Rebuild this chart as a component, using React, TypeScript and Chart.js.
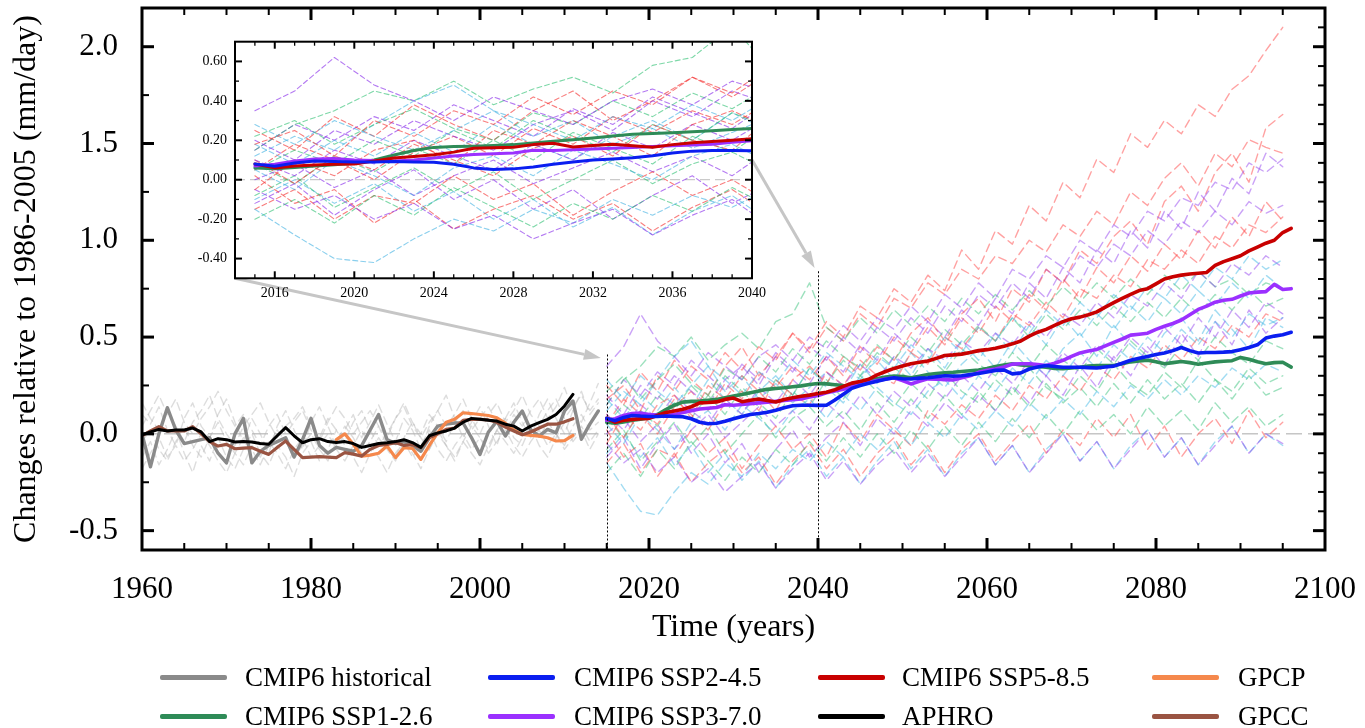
import React, { useEffect, useRef } from 'react';
import { Chart, registerables } from 'chart.js';

Chart.register(...registerables);

const FONT = '"Liberation Serif", "Times New Roman", Times, serif';

// ---------- axes / ticks ----------
const X_TICKS = [1960, 1980, 2000, 2020, 2040, 2060, 2080, 2100];
const Y_TICKS = [-0.5, 0, 0.5, 1.0, 1.5, 2.0];
const INSET_X_TICKS = [2016, 2020, 2024, 2028, 2032, 2036, 2040];
const INSET_Y_TICKS = [-0.4, -0.2, 0, 0.2, 0.4, 0.6];

// ---------- start years ----------
const HIST_START = 1960;
const SCEN_START = 2015;
const MEMBER_STEP = 2;
const APHRO_START = 1960;
const GPCC_START = 1960;
const GPCP_START = 1983;

// ---------- ensemble means (annual) ----------
const HIST_MEAN = [0.00,-0.17,0.00,0.135,0.02,-0.05,-0.04,-0.03,-0.02,-0.10,
  -0.15,0.00,0.08,-0.15,-0.09,-0.06,-0.04,-0.02,-0.12,-0.03,
  0.08,-0.06,-0.10,-0.07,-0.08,-0.09,-0.06,0.02,0.10,-0.03,
  -0.05,-0.04,-0.06,-0.09,-0.02,0.04,0.05,0.056,0.056,-0.02,
  -0.106,0.01,0.066,-0.011,0.06,0.118,0.02,-0.011,0.023,0.005,
  0.118,0.17,-0.028,0.05,0.118];

const SSP585_MEAN = [0.08,0.06,0.07,0.075,0.078,0.08,0.095,0.11,0.118,0.127,
  0.14,0.16,0.162,0.165,0.178,0.185,0.166,0.174,0.18,0.172,
  0.165,0.178,0.187,0.194,0.2,0.208,0.215,0.228,0.245,0.262,
  0.27,0.282,0.305,0.322,0.338,0.35,0.362,0.37,0.376,0.39,
  0.405,0.408,0.412,0.42,0.43,0.435,0.442,0.452,0.465,0.48,
  0.505,0.525,0.54,0.56,0.58,0.595,0.603,0.615,0.63,0.655,
  0.678,0.7,0.72,0.74,0.75,0.775,0.8,0.812,0.82,0.826,
  0.83,0.834,0.87,0.89,0.905,0.92,0.945,0.965,0.985,1.0,
  1.04,1.062];

const SSP370_MEAN = [0.07,0.078,0.095,0.105,0.108,0.1,0.097,0.095,0.1,0.11,
  0.12,0.128,0.132,0.136,0.15,0.148,0.152,0.156,0.16,0.163,
  0.168,0.172,0.176,0.18,0.19,0.198,0.212,0.222,0.23,0.242,
  0.255,0.265,0.275,0.283,0.29,0.275,0.258,0.272,0.284,0.283,
  0.28,0.278,0.29,0.3,0.318,0.328,0.335,0.345,0.36,0.362,
  0.362,0.358,0.353,0.365,0.38,0.4,0.418,0.428,0.436,0.455,
  0.473,0.49,0.51,0.515,0.52,0.54,0.556,0.57,0.588,0.615,
  0.643,0.66,0.68,0.69,0.695,0.712,0.728,0.732,0.735,0.772,
  0.746,0.75];

const SSP245_MEAN = [0.08,0.068,0.085,0.095,0.092,0.09,0.09,0.092,0.09,0.088,
  0.078,0.06,0.052,0.055,0.065,0.078,0.09,0.1,0.105,0.112,
  0.122,0.135,0.145,0.148,0.148,0.147,0.148,0.175,0.205,0.235,
  0.25,0.262,0.272,0.282,0.29,0.285,0.283,0.288,0.29,0.295,
  0.3,0.298,0.3,0.306,0.312,0.32,0.328,0.33,0.31,0.315,
  0.335,0.345,0.353,0.348,0.344,0.344,0.344,0.342,0.34,0.345,
  0.35,0.365,0.38,0.39,0.4,0.41,0.418,0.43,0.446,0.43,
  0.418,0.42,0.42,0.422,0.425,0.435,0.446,0.46,0.495,0.505,
  0.512,0.525];

const SSP126_MEAN = [0.06,0.055,0.062,0.07,0.076,0.083,0.1,0.125,0.148,0.164,
  0.168,0.17,0.174,0.178,0.186,0.195,0.203,0.212,0.222,0.23,
  0.234,0.238,0.243,0.248,0.255,0.26,0.258,0.254,0.25,0.248,
  0.26,0.272,0.285,0.294,0.299,0.296,0.29,0.298,0.307,0.312,
  0.316,0.318,0.322,0.326,0.33,0.338,0.348,0.356,0.362,0.356,
  0.352,0.348,0.344,0.338,0.336,0.34,0.344,0.35,0.353,0.353,
  0.353,0.362,0.372,0.376,0.38,0.372,0.362,0.368,0.374,0.368,
  0.36,0.366,0.372,0.375,0.378,0.395,0.385,0.372,0.362,0.368,
  0.37,0.345];

// ---------- observations (annual) ----------
const APHRO = [-0.005,0.01,0.023,0.015,0.02,0.02,0.03,0.01,-0.04,-0.025,
  -0.03,-0.042,-0.04,-0.042,-0.05,-0.054,-0.01,0.032,-0.01,-0.046,
  -0.03,-0.025,-0.04,-0.045,-0.04,-0.05,-0.07,-0.06,-0.05,-0.046,
  -0.04,-0.03,-0.045,-0.07,-0.01,0.005,0.015,0.03,0.06,0.08,
  0.075,0.07,0.066,0.05,0.04,0.015,0.04,0.058,0.075,0.1,
  0.144,0.204];

const GPCC = [-0.01,0.015,0.037,0.015,0.015,0.015,0.037,0.0,-0.04,-0.063,
  -0.054,-0.077,-0.074,-0.071,-0.09,-0.106,-0.07,-0.037,-0.08,-0.123,
  -0.12,-0.118,-0.12,-0.123,-0.097,-0.105,-0.115,-0.08,-0.06,-0.054,
  -0.045,-0.06,-0.055,-0.071,-0.02,0.0,0.023,0.03,0.07,0.075,
  0.075,0.072,0.06,0.035,0.015,-0.005,0.01,0.03,0.05,0.05,
  0.062,0.078];

const GPCP = [-0.03,0.0,-0.054,-0.115,-0.11,-0.1,-0.063,-0.123,-0.071,-0.075,
  -0.132,-0.06,0.006,0.06,0.075,0.109,0.105,0.1,0.095,0.083,
  0.055,0.02,-0.003,-0.008,-0.012,-0.02,-0.037,-0.035,-0.008];

// ---------- historical ensemble members (annual, 1960-2014) ----------
const HIST_M1 = [0.10,0.05,0.14,0.02,-0.06,0.08,0.16,0.04,-0.02,0.10,0.18,0.06,-0.04,0.08,0.00,-0.10,0.04,0.12,0.02,-0.08,0.06,0.14,0.04,-0.06,0.02,0.10,-0.02,0.06,0.15,0.05,-0.04,0.08,0.02,-0.08,0.04,0.12,0.20,0.08,-0.02,0.06,0.14,0.04,-0.06,0.08,0.16,0.06,-0.02,0.10,0.18,0.08,0.00,0.12,0.22,0.10,0.16];
const HIST_M2 = [-0.12,-0.04,-0.16,-0.08,0.02,-0.10,-0.20,-0.06,-0.14,-0.02,-0.12,-0.18,-0.08,0.00,-0.10,-0.16,-0.06,-0.12,-0.22,-0.10,-0.04,-0.14,-0.08,0.02,-0.06,-0.12,-0.20,-0.10,-0.02,-0.08,-0.14,-0.04,-0.10,-0.18,-0.08,0.00,-0.06,-0.12,-0.04,-0.10,-0.16,-0.06,0.02,-0.04,-0.10,-0.02,0.04,-0.06,-0.12,-0.02,0.06,-0.04,0.02,-0.08,0.00];
const HIST_M3 = [0.04,0.12,0.20,0.10,0.18,0.06,0.00,0.08,0.14,0.22,0.12,0.04,0.10,0.02,-0.06,0.04,0.10,0.00,0.06,0.12,0.02,-0.04,0.06,0.14,0.08,0.00,0.06,0.12,0.04,-0.02,0.08,0.16,0.06,0.00,0.10,0.04,-0.04,0.06,0.12,0.02,0.08,0.14,0.06,0.00,0.10,0.04,0.12,0.18,0.08,0.14,0.24,0.12,0.06,0.16,0.26];
const HIST_M4 = [-0.04,0.02,-0.08,-0.14,-0.04,0.04,-0.06,-0.12,-0.02,0.06,-0.04,-0.10,-0.02,-0.08,-0.16,-0.06,0.02,-0.04,-0.12,-0.06,0.00,-0.08,-0.14,-0.04,0.04,-0.02,-0.10,-0.04,0.04,-0.06,-0.12,-0.02,0.06,-0.02,-0.08,0.02,-0.06,-0.14,-0.04,0.04,-0.02,-0.08,0.02,0.08,-0.02,-0.06,0.04,-0.02,0.06,0.00,-0.06,0.04,0.10,0.02,0.06];
const HIST_M5 = [0.16,0.08,0.02,0.12,0.04,-0.04,0.06,0.12,0.20,0.08,0.00,-0.06,0.04,0.10,0.16,0.06,-0.02,0.04,0.08,0.14,0.04,-0.02,0.08,0.02,-0.04,0.06,0.12,0.02,-0.06,0.00,0.08,0.14,0.04,-0.02,0.06,0.12,0.04,0.10,0.18,0.08,0.00,0.10,0.16,0.06,0.12,0.20,0.10,0.04,0.12,0.18,0.08,0.14,0.20,0.12,0.18];
const HIST_M6 = [-0.18,-0.10,-0.02,-0.12,-0.06,-0.14,-0.08,0.00,-0.06,-0.14,-0.20,-0.10,-0.16,-0.06,-0.12,-0.04,-0.10,-0.18,-0.08,-0.02,-0.12,-0.06,0.00,-0.08,-0.14,-0.06,0.02,-0.06,-0.12,-0.20,-0.10,-0.04,-0.12,-0.06,0.02,-0.08,-0.14,-0.06,0.00,-0.08,-0.02,-0.10,-0.04,0.02,-0.06,-0.12,-0.04,0.02,-0.06,0.00,-0.08,-0.02,0.04,-0.04,0.02];

// ---------- scenario ensemble members (every 2 years, 2015-2095) ----------
const SSP585_M1 = [0.18,0.25,0.12,0.30,0.22,0.35,0.28,0.42,0.33,0.45,0.38,0.52,0.44,0.58,0.50,0.66,0.60,0.75,0.68,0.82,0.74,0.95,0.85,1.05,0.98,1.18,1.10,1.30,1.22,1.42,1.35,1.55,1.48,1.62,1.55,1.70,1.64,1.78,1.85,1.98,2.10];
const SSP585_M2 = [-0.05,0.10,0.02,0.15,0.20,0.08,0.25,0.18,0.30,0.22,0.12,0.28,0.35,0.26,0.40,0.33,0.45,0.38,0.52,0.60,0.48,0.62,0.70,0.58,0.75,0.68,0.85,0.78,0.95,0.88,1.02,1.10,0.98,1.20,1.28,1.15,1.35,1.45,1.30,1.58,1.65];
const SSP585_M3 = [0.10,-0.02,0.12,0.05,0.18,0.10,0.02,0.16,0.22,0.12,0.28,0.20,0.15,0.32,0.25,0.38,0.30,0.26,0.42,0.36,0.50,0.44,0.55,0.48,0.62,0.56,0.68,0.60,0.75,0.70,0.82,0.76,0.90,0.85,0.95,0.88,1.02,0.96,1.08,1.04,1.12];
const SSP585_M4 = [-0.15,-0.05,-0.20,-0.08,-0.12,0.02,-0.10,-0.02,-0.18,-0.06,0.04,-0.08,0.00,-0.12,0.06,-0.04,0.10,0.02,-0.06,0.12,0.05,0.15,0.08,0.20,0.12,0.25,0.18,0.30,0.22,0.35,0.28,0.40,0.34,0.46,0.38,0.50,0.44,0.56,0.50,0.62,0.58];
const SSP585_M5 = [0.02,-0.12,-0.05,-0.22,-0.10,-0.25,-0.15,-0.08,-0.20,-0.12,-0.26,-0.14,-0.05,-0.18,-0.08,-0.22,-0.10,-0.02,-0.16,-0.06,-0.20,-0.08,0.00,-0.14,-0.04,0.05,-0.10,0.02,-0.06,0.08,-0.02,0.10,-0.08,0.04,-0.12,0.00,0.08,-0.05,0.12,-0.02,0.06];
const SSP585_M6 = [0.25,0.15,0.32,0.22,0.38,0.28,0.20,0.35,0.45,0.30,0.40,0.52,0.42,0.55,0.48,0.62,0.55,0.70,0.65,0.78,0.72,0.85,0.80,0.92,0.88,1.00,0.94,1.08,1.02,1.15,1.08,1.25,1.18,1.32,1.40,1.28,1.45,1.38,1.52,1.48,1.45];
const SSP585_M7 = [0.05,0.18,0.10,0.00,0.14,0.22,0.12,0.26,0.18,0.32,0.24,0.35,0.28,0.40,0.30,0.45,0.36,0.50,0.42,0.55,0.46,0.60,0.52,0.66,0.58,0.72,0.64,0.80,0.70,0.86,0.78,0.92,0.84,0.98,0.90,1.05,0.96,1.12,1.02,1.20,1.10];

const SSP370_M1 = [0.35,0.45,0.62,0.48,0.40,0.30,0.42,0.35,0.28,0.40,0.46,0.38,0.50,0.44,0.56,0.48,0.60,0.54,0.66,0.58,0.72,0.65,0.78,0.70,0.85,0.80,0.92,0.86,1.00,0.94,1.08,1.02,1.15,1.10,1.22,1.18,1.30,1.26,1.40,1.35,1.42];
const SSP370_M2 = [0.10,0.02,0.15,0.08,0.20,0.12,0.05,0.18,0.10,0.24,0.16,0.28,0.20,0.32,0.25,0.36,0.28,0.40,0.34,0.44,0.38,0.48,0.42,0.52,0.46,0.58,0.50,0.62,0.56,0.68,0.60,0.72,0.66,0.78,0.70,0.84,0.76,0.88,0.82,0.92,0.86];
const SSP370_M3 = [-0.05,-0.15,-0.08,-0.20,-0.12,-0.25,-0.18,-0.30,-0.22,-0.15,-0.28,-0.18,-0.10,-0.24,-0.14,-0.26,-0.16,-0.08,-0.20,-0.10,-0.22,-0.12,-0.02,-0.16,-0.06,-0.20,-0.10,0.00,-0.14,-0.04,-0.18,-0.08,0.02,-0.12,-0.02,-0.16,-0.06,0.04,-0.10,0.00,-0.05];
const SSP370_M4 = [0.20,0.10,0.25,0.18,0.30,0.22,0.15,0.28,0.35,0.25,0.40,0.32,0.45,0.38,0.50,0.42,0.55,0.48,0.60,0.52,0.66,0.58,0.72,0.65,0.78,0.70,0.85,0.78,0.92,0.86,0.98,0.92,1.05,0.98,1.10,1.04,1.15,1.08,1.20,1.14,1.18];
const SSP370_M5 = [0.00,0.08,-0.04,0.05,-0.08,0.02,0.10,-0.02,0.06,0.14,0.04,0.12,0.02,0.16,0.08,0.20,0.10,0.22,0.14,0.26,0.18,0.30,0.22,0.34,0.26,0.38,0.30,0.42,0.34,0.46,0.38,0.50,0.42,0.55,0.46,0.60,0.50,0.64,0.55,0.68,0.62];
const SSP370_M6 = [-0.12,-0.02,-0.18,-0.05,0.05,-0.10,0.00,-0.15,-0.05,-0.20,-0.08,0.02,-0.12,-0.02,0.06,-0.06,0.08,0.00,0.12,0.04,0.16,0.08,0.20,0.12,0.25,0.16,0.30,0.20,0.35,0.24,0.40,0.30,0.45,0.35,0.52,0.40,0.58,0.46,0.64,0.52,0.60];
const SSP370_M7 = [0.15,0.28,0.20,0.32,0.25,0.38,0.30,0.22,0.36,0.28,0.42,0.34,0.26,0.40,0.32,0.46,0.38,0.52,0.44,0.58,0.50,0.64,0.56,0.70,0.62,0.78,0.70,0.86,0.78,0.95,0.88,1.05,0.96,1.15,1.06,1.25,1.15,1.32,1.24,1.45,1.38];

const SSP245_M1 = [0.28,0.18,0.30,0.22,0.15,0.25,0.35,0.28,0.20,0.32,0.26,0.38,0.30,0.42,0.35,0.28,0.40,0.34,0.46,0.38,0.50,0.42,0.55,0.48,0.60,0.52,0.64,0.56,0.68,0.60,0.72,0.64,0.76,0.70,0.82,0.74,0.86,0.80,0.92,0.85,0.90];
const SSP245_M2 = [0.05,-0.05,0.10,0.02,-0.08,0.06,0.12,0.02,0.15,0.08,0.00,0.12,0.18,0.08,0.20,0.12,0.24,0.16,0.10,0.22,0.28,0.18,0.30,0.22,0.34,0.26,0.38,0.30,0.42,0.34,0.46,0.38,0.50,0.42,0.54,0.46,0.58,0.50,0.62,0.56,0.60];
const SSP245_M3 = [-0.15,-0.28,-0.40,-0.42,-0.30,-0.20,-0.26,-0.15,-0.22,-0.10,-0.18,-0.08,-0.14,-0.04,-0.12,0.00,-0.08,0.04,-0.06,0.06,-0.02,0.10,0.02,0.12,0.04,0.16,0.08,0.18,0.10,0.22,0.14,0.25,0.18,0.28,0.20,0.30,0.24,0.34,0.28,0.36,0.32];
const SSP245_M4 = [0.12,0.22,0.15,0.28,0.40,0.48,0.35,0.22,0.30,0.18,0.26,0.16,0.24,0.32,0.22,0.36,0.26,0.40,0.30,0.44,0.34,0.48,0.38,0.52,0.42,0.56,0.46,0.60,0.50,0.62,0.54,0.66,0.58,0.70,0.62,0.74,0.66,0.78,0.70,0.82,0.75];
const SSP245_M5 = [-0.10,0.00,-0.12,-0.02,-0.16,-0.06,-0.20,-0.10,-0.24,-0.14,-0.28,-0.16,-0.08,-0.22,-0.12,-0.26,-0.14,-0.04,-0.18,-0.08,-0.22,-0.10,-0.02,-0.16,-0.06,-0.20,-0.08,0.00,-0.14,-0.04,-0.18,-0.06,0.02,-0.12,-0.02,-0.16,-0.04,0.04,-0.10,0.00,-0.06];
const SSP245_M6 = [0.18,0.08,0.20,0.12,0.24,0.14,0.28,0.18,0.10,0.22,0.30,0.20,0.34,0.24,0.16,0.30,0.38,0.28,0.42,0.32,0.24,0.36,0.44,0.34,0.48,0.38,0.30,0.44,0.52,0.40,0.56,0.46,0.38,0.52,0.60,0.48,0.64,0.54,0.44,0.60,0.55];

const SSP126_M1 = [0.22,0.30,0.18,0.28,0.36,0.26,0.20,0.34,0.28,0.40,0.32,0.44,0.36,0.48,0.40,0.34,0.46,0.38,0.50,0.42,0.54,0.46,0.56,0.48,0.60,0.50,0.62,0.54,0.64,0.56,0.66,0.58,0.68,0.60,0.70,0.62,0.72,0.64,0.74,0.66,0.70];
const SSP126_M2 = [-0.20,-0.10,-0.22,-0.08,-0.18,-0.04,-0.14,-0.24,-0.12,-0.20,-0.08,-0.16,-0.04,-0.14,-0.02,-0.12,0.00,-0.10,0.02,-0.08,0.04,-0.06,0.06,-0.04,0.08,-0.02,0.10,0.00,0.12,0.02,0.10,0.00,0.14,0.04,0.12,0.02,0.16,0.06,0.14,0.04,0.10];
const SSP126_M3 = [0.05,0.15,0.08,0.20,0.12,0.25,0.16,0.30,0.22,0.14,0.28,0.20,0.34,0.26,0.38,0.30,0.42,0.34,0.28,0.40,0.32,0.44,0.36,0.30,0.42,0.34,0.46,0.38,0.32,0.44,0.36,0.48,0.40,0.34,0.46,0.38,0.50,0.42,0.36,0.48,0.44];
const SSP126_M4 = [-0.08,0.02,-0.14,-0.04,0.06,-0.06,0.04,-0.10,0.00,0.10,-0.02,0.08,0.14,0.04,0.12,0.02,0.16,0.06,0.18,0.08,0.20,0.10,0.22,0.12,0.24,0.14,0.26,0.16,0.24,0.14,0.26,0.16,0.28,0.18,0.26,0.16,0.28,0.18,0.30,0.20,0.24];
const SSP126_M5 = [0.15,0.28,0.35,0.45,0.40,0.50,0.38,0.46,0.52,0.44,0.58,0.62,0.78,0.55,0.48,0.60,0.52,0.64,0.56,0.66,0.58,0.70,0.62,0.72,0.64,0.74,0.66,0.76,0.68,0.78,0.70,0.80,0.72,0.82,0.74,0.84,0.76,0.80,0.72,0.78,0.75];
const SSP126_M6 = [0.08,-0.02,0.12,0.04,0.16,0.08,0.20,0.10,0.24,0.16,0.08,0.22,0.14,0.28,0.18,0.30,0.22,0.14,0.26,0.18,0.32,0.22,0.16,0.28,0.20,0.34,0.24,0.18,0.30,0.22,0.36,0.26,0.20,0.32,0.24,0.38,0.28,0.22,0.34,0.26,0.30];

// ---------- colours ----------
const C_HIST = '#8a8a8a';
const C_126 = '#2e8b57';
const C_245 = '#0a1ef0';
const C_370 = '#9b30ff';
const C_585 = '#c80000';
const C_APHRO = '#000000';
const C_GPCP = '#f5884c';
const C_GPCC = '#9a5442';

const CM_HIST = 'rgba(180,180,180,0.45)';
const CM_126 = 'rgba(60,195,125,0.5)';
const CM_245 = 'rgba(70,185,230,0.5)';
const CM_370 = 'rgba(150,70,240,0.5)';
const CM_585 = 'rgba(255,70,70,0.5)';

const CI_126 = 'rgba(40,190,110,0.6)';
const CI_245 = 'rgba(60,175,225,0.6)';
const CI_370 = 'rgba(140,50,235,0.65)';
const CI_585 = 'rgba(245,55,55,0.65)';

const MEMBER_GROUPS = [
  { color: CM_585, insetColor: CI_585, members: [SSP585_M1, SSP585_M2, SSP585_M3, SSP585_M4, SSP585_M5, SSP585_M6, SSP585_M7] },
  { color: CM_370, insetColor: CI_370, members: [SSP370_M1, SSP370_M2, SSP370_M3, SSP370_M4, SSP370_M5, SSP370_M6, SSP370_M7] },
  { color: CM_245, insetColor: CI_245, members: [SSP245_M1, SSP245_M2, SSP245_M3, SSP245_M4, SSP245_M5, SSP245_M6] },
  { color: CM_126, insetColor: CI_126, members: [SSP126_M1, SSP126_M2, SSP126_M3, SSP126_M4, SSP126_M5, SSP126_M6] },
];
const HIST_MEMBERS = [HIST_M1, HIST_M2, HIST_M3, HIST_M4, HIST_M5, HIST_M6];

const LEGEND_LABELS = ['CMIP6 historical', 'CMIP6 SSP2-4.5', 'CMIP6 SSP5-8.5', 'GPCP',
  'CMIP6 SSP1-2.6', 'CMIP6 SSP3-7.0', 'APHRO', 'GPCC'];
const LEGEND_COLORS = [C_HIST, C_245, C_585, C_GPCP, C_126, C_370, C_APHRO, C_GPCC];

// annotation marks in main-chart data coordinates
const MARKERS = [{ year: 2015, top: 0.41 }, { year: 2040, top: 0.84 }];
const ARROWS = [
  { from: [1971.0, 0.804], to: [2014.3, 0.392] },
  { from: [2032.2, 1.415], to: [2039.6, 0.857] },
];

// ---------- helpers ----------
type Pt = { x: number; y: number };
const series = (start: number, step: number, vals: number[]): Pt[] =>
  vals.map((v, i) => ({ x: start + i * step, y: v }));

function lineDs(data: Pt[], color: string, width: number, order: number, dash?: number[], label?: string) {
  return {
    label: label || '',
    data,
    borderColor: color,
    backgroundColor: color,
    borderWidth: width,
    borderDash: dash || [],
    pointRadius: 0,
    fill: false,
    tension: 0,
    order,
    borderCapStyle: 'round',
    borderJoinStyle: 'round',
  };
}

function buildDatasets(inset: boolean) {
  const ds: any[] = [];
  const mw = inset ? 3 : 3.6;
  ds.push(lineDs(series(SCEN_START, 1, SSP245_MEAN), C_245, mw, 1, undefined, 'CMIP6 SSP2-4.5'));
  ds.push(lineDs(series(SCEN_START, 1, SSP585_MEAN), C_585, mw, 2, undefined, 'CMIP6 SSP5-8.5'));
  ds.push(lineDs(series(SCEN_START, 1, SSP370_MEAN), C_370, mw, 3, undefined, 'CMIP6 SSP3-7.0'));
  ds.push(lineDs(series(SCEN_START, 1, SSP126_MEAN), C_126, mw, 4, undefined, 'CMIP6 SSP1-2.6'));
  if (!inset) {
    ds.push(lineDs(series(APHRO_START, 1, APHRO), C_APHRO, 3, 5, undefined, 'APHRO'));
    ds.push(lineDs(series(GPCC_START, 1, GPCC), C_GPCC, 3.2, 6, undefined, 'GPCC'));
    ds.push(lineDs(series(GPCP_START, 1, GPCP), C_GPCP, 3.2, 7, undefined, 'GPCP'));
    ds.push(lineDs(series(HIST_START, 1, HIST_MEAN), C_HIST, 3.4, 8, undefined, 'CMIP6 historical'));
    HIST_MEMBERS.forEach((m) => ds.push(lineDs(series(HIST_START, 1, m), CM_HIST, 1.4, 50, [8, 5])));
  }
  const maxN = Math.max(...MEMBER_GROUPS.map((g) => g.members.length));
  for (let i = 0; i < maxN; i++) {
    MEMBER_GROUPS.forEach((g) => {
      if (g.members[i]) {
        ds.push(lineDs(series(SCEN_START, MEMBER_STEP, g.members[i]), inset ? g.insetColor : g.color,
          inset ? 1.1 : 1.4, 60, inset ? [5, 3] : [8, 5]));
      }
    });
  }
  return ds;
}

interface FrameSpec {
  xMinor: number; xMajor: number[];
  yMinorLeft: number; yMinorRight: number; yMajor: number[];
  majorLen: number; minorLen: number;
  majorWidth: number; minorWidth: number; frameWidth: number;
}

function drawFrame(chart: any, s: FrameSpec) {
  const { ctx, chartArea: a } = chart;
  const x = chart.scales.x;
  const y = chart.scales.y;
  ctx.save();
  ctx.setLineDash([]);
  ctx.strokeStyle = '#000';
  const seg = (x1: number, y1: number, x2: number, y2: number, w: number) => {
    ctx.lineWidth = w;
    ctx.beginPath(); ctx.moveTo(x1, y1); ctx.lineTo(x2, y2); ctx.stroke();
  };
  const isMajor = (v: number, list: number[]) => list.some((m) => Math.abs(m - v) < 1e-6);
  const ks = Math.ceil(x.min / s.xMinor - 1e-9);
  const ke = Math.floor(x.max / s.xMinor + 1e-9);
  for (let k = ks; k <= ke; k++) {
    const v = k * s.xMinor;
    const px = x.getPixelForValue(v);
    if (px < a.left + 2 || px > a.right - 2) continue;
    const maj = isMajor(v, s.xMajor);
    const len = maj ? s.majorLen : s.minorLen;
    const w = maj ? s.majorWidth : s.minorWidth;
    seg(px, a.bottom, px, a.bottom - len, w);
    seg(px, a.top, px, a.top + len, w);
  }
  const side = (step: number, x0: number, dir: number) => {
    const s0 = Math.ceil(y.min / step - 1e-9);
    const s1 = Math.floor(y.max / step + 1e-9);
    for (let k = s0; k <= s1; k++) {
      const v = k * step;
      const py = y.getPixelForValue(v);
      if (py < a.top + 2 || py > a.bottom - 2) continue;
      const maj = isMajor(v, s.yMajor);
      const len = maj ? s.majorLen : s.minorLen;
      const w = maj ? s.majorWidth : s.minorWidth;
      seg(x0, py, x0 + dir * len, py, w);
    }
  };
  side(s.yMinorLeft, a.left, 1);
  side(s.yMinorRight, a.right, -1);
  ctx.lineWidth = s.frameWidth;
  ctx.strokeRect(a.left, a.top, a.right - a.left, a.bottom - a.top);
  ctx.restore();
}

function drawArrow(ctx: CanvasRenderingContext2D, x1: number, y1: number, x2: number, y2: number) {
  const color = '#c6c6c6';
  const headLen = 17;
  const headW = 5.5;
  const ang = Math.atan2(y2 - y1, x2 - x1);
  const bx = x2 - headLen * Math.cos(ang);
  const by = y2 - headLen * Math.sin(ang);
  ctx.save();
  ctx.setLineDash([]);
  ctx.strokeStyle = color;
  ctx.lineWidth = 3;
  ctx.beginPath(); ctx.moveTo(x1, y1); ctx.lineTo(bx, by); ctx.stroke();
  ctx.fillStyle = color;
  ctx.beginPath();
  ctx.moveTo(x2, y2);
  ctx.lineTo(bx + headW * Math.sin(ang), by - headW * Math.cos(ang));
  ctx.lineTo(bx - headW * Math.sin(ang), by + headW * Math.cos(ang));
  ctx.closePath();
  ctx.fill();
  ctx.restore();
}

const fixBox = (w?: number, h?: number) => (s: any) => {
  if (w !== undefined) s.width = w;
  if (h !== undefined) s.height = h;
  s.paddingLeft = 0; s.paddingRight = 0; s.paddingTop = 0; s.paddingBottom = 0;
};

const mainDecor = {
  id: 'mainDecor',
  beforeDatasetsDraw(chart: any) {
    const { ctx, chartArea: a } = chart;
    const y = chart.scales.y;
    const y0 = y.getPixelForValue(0);
    ctx.save();
    ctx.strokeStyle = '#a9a9a9';
    ctx.lineWidth = 1;
    ctx.setLineDash([16, 6]);
    ctx.beginPath(); ctx.moveTo(a.left, y0); ctx.lineTo(a.right, y0); ctx.stroke();
    ctx.restore();
  },
  afterDatasetsDraw(chart: any) {
    const { ctx, chartArea: a } = chart;
    const x = chart.scales.x;
    const y = chart.scales.y;
    ctx.save();
    ctx.strokeStyle = '#000';
    ctx.lineWidth = 1;
    ctx.setLineDash([2, 2]);
    MARKERS.forEach((m) => {
      const px = Math.round(x.getPixelForValue(m.year)) + 0.5;
      ctx.beginPath(); ctx.moveTo(px, y.getPixelForValue(m.top)); ctx.lineTo(px, a.bottom); ctx.stroke();
    });
    ctx.restore();
    ARROWS.forEach((ar) => {
      drawArrow(ctx, x.getPixelForValue(ar.from[0]), y.getPixelForValue(ar.from[1]),
        x.getPixelForValue(ar.to[0]), y.getPixelForValue(ar.to[1]));
    });
    drawFrame(chart, {
      xMinor: 5, xMajor: X_TICKS, yMinorLeft: 0.25, yMinorRight: 0.1, yMajor: Y_TICKS,
      majorLen: 12, minorLen: 7, majorWidth: 3, minorWidth: 2, frameWidth: 3,
    });
  },
};

const insetDecor = {
  id: 'insetDecor',
  beforeDatasetsDraw(chart: any) {
    const { ctx, chartArea: a } = chart;
    const y = chart.scales.y;
    ctx.save();
    ctx.fillStyle = '#fff';
    ctx.fillRect(a.left, a.top, a.right - a.left, a.bottom - a.top);
    const y0 = y.getPixelForValue(0);
    ctx.strokeStyle = '#bdbdbd';
    ctx.lineWidth = 1;
    ctx.setLineDash([10, 5]);
    ctx.beginPath(); ctx.moveTo(a.left, y0); ctx.lineTo(a.right, y0); ctx.stroke();
    ctx.restore();
  },
  afterDatasetsDraw(chart: any) {
    drawFrame(chart, {
      xMinor: 1, xMajor: INSET_X_TICKS, yMinorLeft: 0.1, yMinorRight: 0.1, yMajor: INSET_Y_TICKS,
      majorLen: 7, minorLen: 4, majorWidth: 2, minorWidth: 1.3, frameWidth: 2,
    });
  },
};

function mainConfig(): any {
  return {
    type: 'line',
    data: { datasets: buildDatasets(false) },
    options: {
      responsive: false,
      animation: false,
      devicePixelRatio: 1,
      layout: { padding: { left: 0, right: 40, top: 8, bottom: 80 } },
      plugins: { legend: { display: false }, tooltip: { enabled: false } },
      scales: {
        x: {
          type: 'linear', min: 1960, max: 2100,
          afterBuildTicks: (s: any) => { s.ticks = X_TICKS.map((v) => ({ value: v })); },
          afterFit: fixBox(undefined, 98),
          grid: { display: false, drawTicks: false },
          border: { display: false },
          ticks: { font: { family: FONT, size: 31 }, color: '#000', padding: 21, maxRotation: 0, autoSkip: false,
            callback: (v: any) => String(v) },
          title: { display: true, text: 'Time (years)', color: '#000', font: { family: FONT, size: 32 },
            padding: { top: 0, bottom: 1 } },
        },
        y: {
          type: 'linear', min: -0.6, max: 2.2,
          afterBuildTicks: (s: any) => { s.ticks = Y_TICKS.map((v) => ({ value: v })); },
          afterFit: fixBox(142, undefined),
          grid: { display: false, drawTicks: false },
          border: { display: false },
          ticks: { font: { family: FONT, size: 31 }, color: '#000', padding: 24,
            callback: (v: any) => Number(v).toFixed(1) },
          title: { display: true, text: 'Changes relative to 1986-2005 (mm/day)', color: '#000',
            font: { family: FONT, size: 32 }, padding: { top: 7, bottom: 0 } },
        },
      },
    },
    plugins: [mainDecor],
  };
}

function insetConfig(): any {
  return {
    type: 'line',
    data: { datasets: buildDatasets(true) },
    options: {
      responsive: false,
      animation: false,
      devicePixelRatio: 1,
      layout: { padding: { left: 0, right: 33, top: 11.7, bottom: 0 } },
      plugins: { legend: { display: false }, tooltip: { enabled: false } },
      scales: {
        x: {
          type: 'linear', min: 2014, max: 2040,
          afterBuildTicks: (s: any) => { s.ticks = INSET_X_TICKS.map((v) => ({ value: v })); },
          afterFit: fixBox(undefined, 41.7),
          grid: { display: false, drawTicks: false },
          border: { display: false },
          ticks: { font: { family: FONT, size: 14 }, color: '#000', padding: 7, maxRotation: 0, autoSkip: false,
            callback: (v: any) => String(v) },
        },
        y: {
          type: 'linear', min: -0.5, max: 0.7,
          afterBuildTicks: (s: any) => { s.ticks = INSET_Y_TICKS.map((v) => ({ value: v })); },
          afterFit: fixBox(50, undefined),
          grid: { display: false, drawTicks: false },
          border: { display: false },
          ticks: { font: { family: FONT, size: 14 }, color: '#000', padding: 8,
            callback: (v: any) => Number(v).toFixed(2) },
        },
      },
    },
    plugins: [insetDecor],
  };
}

const LEGEND_SWATCH_X = [160, 488, 818, 1152];
const LEGEND_TEXT_X = [245, 574, 902, 1238];
const LEGEND_ROW_Y = [677, 716];

export default function App() {
  const mainRef = useRef<HTMLCanvasElement>(null);
  const insetRef = useRef<HTMLCanvasElement>(null);

  useEffect(() => {
    const main = new Chart(mainRef.current as HTMLCanvasElement, mainConfig());
    const inset = new Chart(insetRef.current as HTMLCanvasElement, insetConfig());
    return () => {
      main.destroy();
      inset.destroy();
    };
  }, []);

  return (
    <div style={{ position: 'absolute', left: 0, top: 0, width: 1365, height: 728, background: '#fff', overflow: 'hidden' }}>
      <canvas ref={mainRef} width={1365} height={728} style={{ position: 'absolute', left: 0, top: 0 }} />
      <canvas ref={insetRef} width={600} height={290} style={{ position: 'absolute', left: 185, top: 30 }} />
      {LEGEND_LABELS.map((label, i) => {
        const col = i % 4;
        const row = Math.floor(i / 4);
        return (
          <React.Fragment key={label}>
            <div style={{ position: 'absolute', left: LEGEND_SWATCH_X[col], top: LEGEND_ROW_Y[row] - 2.5, width: 67, height: 5,
              background: LEGEND_COLORS[i], borderRadius: 2 }} />
            <div style={{ position: 'absolute', left: LEGEND_TEXT_X[col], top: LEGEND_ROW_Y[row] - 16, fontFamily: FONT,
              fontSize: 27, lineHeight: '32px', whiteSpace: 'nowrap', color: '#000' }}>{label}</div>
          </React.Fragment>
        );
      })}
    </div>
  );
}
